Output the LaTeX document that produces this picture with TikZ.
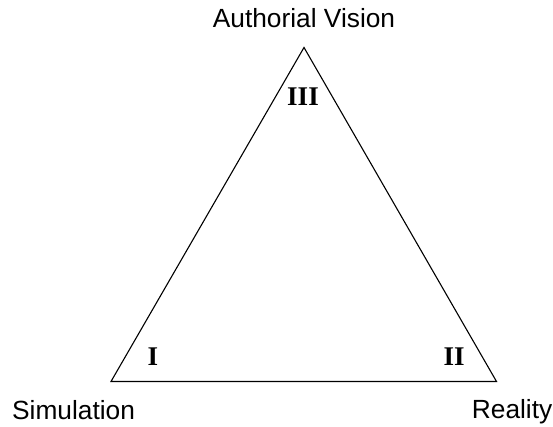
\documentclass[tikz,border=0pt]{standalone}
\usepackage{fontspec}
\setmainfont{Liberation Serif}
\newfontfamily\labfont{Liberation Sans}
\begin{document}
\begin{tikzpicture}[x=1pt,y=1pt,
  lab/.style={font=\labfont\fontsize{26.3}{28}\selectfont, inner sep=0pt},
  num/.style={font=\bfseries\fontsize{27}{28}\selectfont, inner sep=0pt}]
\useasboundingbox (0,0) rectangle (553,427);
\coordinate (top) at (304,379.5);
\coordinate (bl) at (111,45.5);
\coordinate (br) at (496.5,45.5);
\draw[line width=1.1pt, line join=miter] (top) -- (bl) -- (br) -- cycle;
\node[lab, anchor=base] (av) at (304,399) {Authorial Vision};
\node[lab, anchor=base west] (sim) at (12,7) {Simulation};
\node[lab, anchor=base east] (real) at (552.5,8) {Reality};
\node[num] (n3) at (303,330.5) {III};
\node[num] (n1) at (153,70.5) {I};
\node[num] (n2) at (454,70.5) {II};
\end{tikzpicture}
\end{document}
